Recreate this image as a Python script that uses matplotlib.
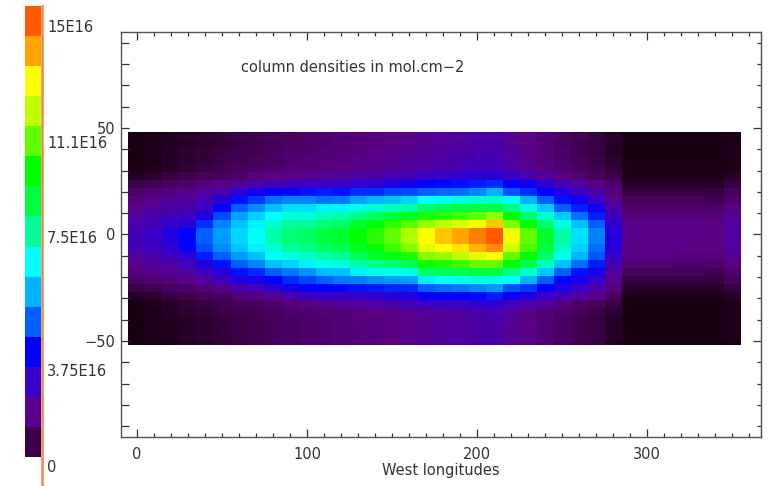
import numpy as np
import matplotlib
matplotlib.use("Agg")
import matplotlib.pyplot as plt
from matplotlib.colors import LinearSegmentedColormap
from matplotlib.lines import Line2D
from matplotlib.ticker import MultipleLocator

# levels, 0-15 on the colour bar scale (15 = 15E16)
# one list per longitude, rows go from north to south
lon_000 = [0, 0, 0, 0, 0, .3, .9, 1.5, 1.9, 2.1, 2.4, 2.6, 2.8, 2.8, 2.7, 2.4, 2.1, 1.9, 1.5, .9, .3, 0, 0, 0, 0, 0]
lon_010 = [.1, .1, .1, .1, .2, .5, 1.1, 1.7, 2.1, 2.3, 2.6, 2.8, 3, 3, 2.9, 2.6, 2.3, 2.1, 1.7, 1.1, .5, .2, .1, .1, .1, .1]
lon_020 = [.2, .2, .3, .3, .4, .8, 1.3, 1.9, 2.3, 2.5, 2.8, 3.1, 3.4, 3.4, 3.2, 2.9, 2.5, 2.2, 1.9, 1.3, .8, .4, .3, .2, .2, .2]
lon_030 = [.4, .4, .5, .5, .6, 1, 1.5, 2.1, 2.4, 2.6, 2.9, 3.3, 4, 4, 3.9, 3.2, 2.8, 2.4, 2.1, 1.5, 1, .6, .5, .4, .4, .4]
lon_040 = [.5, .5, .6, .7, .8, 1.2, 1.8, 2.3, 2.7, 3, 3.5, 4.5, 5, 5, 4.8, 4.3, 3.4, 2.9, 2.3, 1.8, 1.2, .8, .6, .5, .5, .5]
lon_050 = [.7, .7, .8, .9, 1, 1.4, 2, 2.6, 3.3, 4, 4.8, 5.4, 5.7, 5.7, 5.5, 5, 4.2, 3.3, 2.8, 2, 1.4, 1, .9, .7, .7, .7]
lon_060 = [.9, .9, 1, 1.1, 1.2, 1.6, 2.3, 3.3, 4.2, 5, 5.8, 6.2, 6.5, 6.5, 6.2, 5.7, 5, 4.2, 3.4, 2.5, 1.7, 1.3, 1, .9, .9, .9]
lon_070 = [1, 1, 1.1, 1.2, 1.3, 1.8, 2.6, 3.6, 4.6, 5.6, 6.4, 6.8, 7, 7, 6.8, 6.2, 5.4, 4.4, 3.6, 2.8, 1.9, 1.4, 1.1, 1, 1, 1]
lon_080 = [1.2, 1.2, 1.3, 1.4, 1.5, 2, 2.8, 4, 5.2, 6.2, 7, 7.5, 7.8, 7.8, 7.4, 7, 6.2, 5, 4, 3.2, 2.2, 1.6, 1.3, 1.2, 1.2, 1.2]
lon_090 = [1.4, 1.4, 1.5, 1.6, 1.7, 2.1, 2.9, 4.1, 5.4, 6.6, 7.3, 8, 8.4, 8.4, 8, 7.3, 6.4, 5.3, 4.4, 3.6, 2.6, 1.8, 1.5, 1.4, 1.4, 1.4]
lon_100 = [1.5, 1.5, 1.6, 1.7, 1.8, 2.2, 3, 4.2, 5.4, 6.6, 7.4, 8, 8.6, 8.6, 8.2, 7.6, 6.8, 5.6, 4.7, 3.9, 2.9, 2, 1.6, 1.5, 1.5, 1.5]
lon_110 = [1.6, 1.6, 1.7, 1.8, 1.9, 2.3, 3, 4.3, 5.2, 6.8, 7.7, 8.4, 9, 9, 8.6, 7.8, 7.2, 6.1, 5, 4, 3, 2.2, 1.7, 1.6, 1.6, 1.6]
lon_120 = [1.7, 1.7, 1.8, 1.9, 2, 2.4, 3.1, 4.2, 5.3, 6.9, 7.9, 8.6, 9.2, 9.2, 8.8, 8, 7.3, 6.2, 5.3, 4.1, 3, 2.3, 1.8, 1.7, 1.7, 1.7]
lon_130 = [1.8, 1.8, 1.9, 2, 2.1, 2.5, 3.2, 4.5, 5.8, 7.3, 8.3, 9.3, 10, 10, 9.5, 8.7, 7.8, 6.8, 5.4, 4.2, 3.1, 2.4, 1.9, 1.8, 1.8, 1.8]
lon_140 = [1.9, 1.9, 2, 2.1, 2.2, 2.6, 3.3, 4.5, 6, 7.5, 8.7, 9.8, 10.4, 10.4, 10, 9.3, 8.2, 7.1, 5.6, 4.3, 3.2, 2.5, 2, 1.9, 1.9, 1.9]
lon_150 = [2, 2, 2.1, 2.2, 2.3, 2.7, 3.5, 4.7, 6.2, 7.7, 9.2, 10.4, 11, 11, 10.6, 9.7, 8.4, 7.2, 5.7, 4.4, 3.3, 2.5, 2.1, 2, 2, 2]
lon_160 = [2.1, 2.1, 2.2, 2.3, 2.4, 2.8, 3.7, 4.8, 6.4, 7.9, 9.6, 11, 11.8, 11.8, 11.3, 10.2, 8.8, 7.3, 5.8, 4.4, 3.4, 2.7, 2.2, 2.1, 2.1, 2.1]
lon_170 = [2.2, 2.2, 2.3, 2.4, 2.5, 3, 4, 5, 7, 8.6, 10.2, 11.6, 13, 13, 12.5, 11.4, 10.1, 8.5, 6.8, 5, 3.9, 3, 2.3, 2.2, 2.2, 2.2]
lon_180 = [2.3, 2.3, 2.4, 2.5, 2.6, 3.1, 4.1, 5.1, 7.2, 8.8, 10.4, 12, 13.6, 13.6, 13, 11.6, 10.3, 8.7, 7, 5.2, 3.9, 3, 2.4, 2.3, 2.3, 2.3]
lon_190 = [2.4, 2.4, 2.5, 2.6, 2.7, 3.2, 4.2, 5.2, 7.4, 9, 10.7, 12.4, 14, 14, 13.3, 12, 10.5, 8.8, 7.2, 5.3, 4, 3.1, 2.5, 2.4, 2.4, 2.4]
lon_200 = [2.5, 2.5, 2.6, 2.7, 2.8, 3.3, 4.3, 5.5, 7.5, 9, 11, 13, 14.5, 14.5, 13.8, 12.5, 11, 9, 7.3, 5.5, 4.1, 3.2, 2.6, 2.5, 2.5, 2.5]
lon_210 = [2.5, 2.5, 2.6, 2.7, 2.8, 3.3, 4.5, 6, 7.6, 9, 11.5, 13.6, 15, 15, 14.3, 13, 11, 9, 7.2, 5.7, 4.3, 3.2, 2.7, 2.6, 2.5, 2.5]
lon_220 = [2.2, 2.2, 2.3, 2.4, 2.5, 3.1, 4, 4.9, 7, 8.3, 10, 11.3, 12.8, 12.8, 12.2, 11, 9.8, 8.2, 7, 4.9, 3.7, 2.8, 2.4, 2.3, 2.2, 2.2]
lon_230 = [2, 2, 2, 2.1, 2.2, 2.8, 3.8, 4.5, 6, 7.3, 8.5, 10, 11, 11, 10.7, 10, 8.9, 7.5, 6, 4.6, 3.5, 2.6, 2.1, 2, 2, 2]
lon_240 = [1.7, 1.7, 1.8, 1.8, 1.9, 2.4, 3.2, 4, 5, 6.3, 7.5, 8.5, 9.3, 9.3, 9, 8.5, 7.7, 6.3, 5, 4, 3, 2.3, 1.8, 1.7, 1.7, 1.7]
lon_250 = [1.4, 1.4, 1.5, 1.5, 1.6, 2, 2.8, 3.5, 4.2, 5, 6.3, 7.3, 7.8, 7.8, 7.6, 7.2, 6.2, 5, 4.1, 3.4, 2.7, 1.9, 1.5, 1.4, 1.4, 1.4]
lon_260 = [1.1, 1.1, 1.1, 1.2, 1.3, 1.7, 2.4, 3, 3.7, 4.3, 5.2, 6.2, 6.6, 6.6, 6.4, 6, 5.2, 4.2, 3.6, 3, 2.3, 1.6, 1.2, 1.1, 1.1, 1.1]
lon_270 = [.8, .8, .8, .9, 1, 1.4, 2, 2.6, 3.1, 3.7, 4.3, 5, 5.4, 5.4, 5.2, 4.9, 4.3, 3.6, 3.1, 2.6, 2, 1.3, .9, .8, .8, .8]
lon_280 = [.4, .4, .4, .5, .6, 1, 1.5, 1.9, 2.2, 2.5, 2.9, 3.2, 3.4, 3.4, 3.3, 3.1, 2.8, 2.4, 2.2, 1.9, 1.4, .9, .5, .4, .4, .4]
lon_290 = [0, 0, 0, 0, 0, .1, .4, .8, 1.2, 1.6, 1.9, 2.1, 2.1, 2.1, 2.1, 2, 1.7, 1.2, .8, .4, .1, 0, 0, 0, 0, 0]
lon_300 = [0, 0, 0, 0, 0, .1, .4, .8, 1.2, 1.6, 1.9, 2, 2.1, 2.1, 2.1, 2, 1.7, 1.2, .8, .4, .1, 0, 0, 0, 0, 0]
lon_310 = [0, 0, 0, 0, 0, .1, .4, .8, 1.2, 1.6, 1.9, 2, 2.1, 2.1, 2, 2, 1.7, 1.2, .8, .4, .1, 0, 0, 0, 0, 0]
lon_320 = [0, 0, 0, 0, 0, .1, .4, .8, 1.2, 1.6, 1.9, 2, 2.1, 2.1, 2, 1.9, 1.6, 1.2, .8, .4, .1, 0, 0, 0, 0, 0]
lon_330 = [0, 0, 0, 0, 0, .1, .4, .8, 1.2, 1.6, 1.9, 2, 2, 2, 2, 1.9, 1.6, 1.2, .8, .4, .1, 0, 0, 0, 0, 0]
lon_340 = [0, 0, 0, 0, 0, .1, .4, .8, 1.1, 1.5, 1.8, 2, 2, 2, 2, 1.9, 1.6, 1.1, .8, .4, .1, 0, 0, 0, 0, 0]
lon_350 = [.1, .1, .1, .1, .1, .4, .8, 1.2, 1.6, 2, 2.2, 2.4, 2.4, 2.4, 2.4, 2.2, 2, 1.6, 1.2, .8, .4, .1, .1, .1, .1, .1]

columns = [lon_000, lon_010, lon_020, lon_030, lon_040, lon_050, lon_060, lon_070, lon_080,
           lon_090, lon_100, lon_110, lon_120, lon_130, lon_140, lon_150, lon_160, lon_170,
           lon_180, lon_190, lon_200, lon_210, lon_220, lon_230, lon_240, lon_250, lon_260,
           lon_270, lon_280, lon_290, lon_300, lon_310, lon_320, lon_330, lon_340, lon_350]

lon_edges = [-5, 5, 15, 25, 35, 45, 55, 65, 75, 85, 95, 105, 115, 125, 135, 145, 155, 165, 175,
             185, 195, 205, 215, 225, 235, 245, 255, 265, 275, 285, 295, 305, 315, 325, 335, 345, 355]
lat_edges = [48, 44.5, 40.8, 37, 33.2, 29.5, 25.7, 21.9, 18.2, 14.4, 10.6, 6.9, 3.1, -0.7,
             -4.5, -8.2, -12, -15.8, -19.5, -23.3, -27.1, -30.8, -34.6, -38.4, -42.1, -45.9, -52]

bar_colors = ['#3d0048', '#5a008c', '#3a00c8', '#0000ff', '#0060ff', '#00b4ff', '#00ffff', '#00ff9a',
              '#00ff40', '#00ff00', '#60ff00', '#bfff00', '#ffff00', '#ffa500', '#ff5a00']
map_colors = ['#1a0014', '#400050', '#5a0085', '#3a00c8', '#0000ff', '#0060ff', '#00b4ff', '#00ffff',
              '#00ff9a', '#00ff40', '#00ff00', '#60ff00', '#bfff00', '#ffff00', '#ffa500', '#ff5a00']
bar_labels = ['0', '3.75E16', '7.5E16', '11.1E16', '15E16']
bar_label_y = [468, 372, 238, 143, 28]

W, H = 771, 486
txt = '#333333'
plt.rcParams['font.family'] = 'DejaVu Sans'

fig = plt.figure(figsize=(W / 100, H / 100), dpi=100)
ax = fig.add_axes([121 / W, 1 - 437 / H, 640 / W, 405 / H])

density = np.array(columns).T
cmap = LinearSegmentedColormap.from_list('idl', map_colors, N=256)
ax.pcolormesh(lon_edges, lat_edges, density, cmap=cmap, vmin=0, vmax=15, antialiased=False, rasterized=True)

ax.set_xlim(-9.4, 367)
ax.set_ylim(-95, 95)
ax.xaxis.set_major_locator(MultipleLocator(100))
ax.xaxis.set_minor_locator(MultipleLocator(10))
ax.yaxis.set_major_locator(MultipleLocator(50))
ax.yaxis.set_minor_locator(MultipleLocator(10))
ax.tick_params(which='major', top=True, direction='in', length=6, width=0.9, color=txt,
               labelsize=10.5, labelcolor=txt, pad=7)
ax.tick_params(which='minor', top=True, direction='in', length=3, width=0.9, color=txt)
ax.tick_params(axis='y', which='both', length=5.5, pad=4)
ax.yaxis.set_major_formatter(lambda v, pos: f'{v:.0f}'.replace('-', '\u2212'))

# right side ticks are shorter on the minor ones
right = ax.secondary_yaxis('right')
right.yaxis.set_major_locator(MultipleLocator(50))
right.yaxis.set_minor_locator(MultipleLocator(10))
right.tick_params(which='major', direction='in', length=6, width=0.9, color=txt, labelright=False)
right.tick_params(which='minor', direction='in', length=3, width=0.9, color=txt)
right.spines['right'].set_color('#555555')

for s in ax.spines.values():
    s.set_color('#555555')
    s.set_linewidth(1)

ax.set_xlabel('West longitudes', fontsize=10.5, color=txt, labelpad=1)
fig.text(241 / W, 1 - 67 / H, 'column densities in mol.cm\u22122', fontsize=10.5, color=txt,
         ha='left', va='center')

# colour bar, separate from the map
cax = fig.add_axes([25 / W, 1 - 457 / H, 16 / W, 451 / H])
cax.pcolormesh([0, 1], np.arange(len(bar_colors) + 1), np.arange(len(bar_colors)).reshape(-1, 1),
               cmap=matplotlib.colors.ListedColormap(bar_colors), antialiased=False)
cax.axis('off')
fig.add_artist(Line2D([41.5 / W, 41.5 / W], [1 - 6 / H, 0], color='#e8874f', lw=1.8))
for lab, yy in zip(bar_labels, bar_label_y):
    fig.text(47 / W, 1 - yy / H, lab, fontsize=10.5, color=txt, ha='left', va='center')

fig.savefig('out.png', dpi=100)
